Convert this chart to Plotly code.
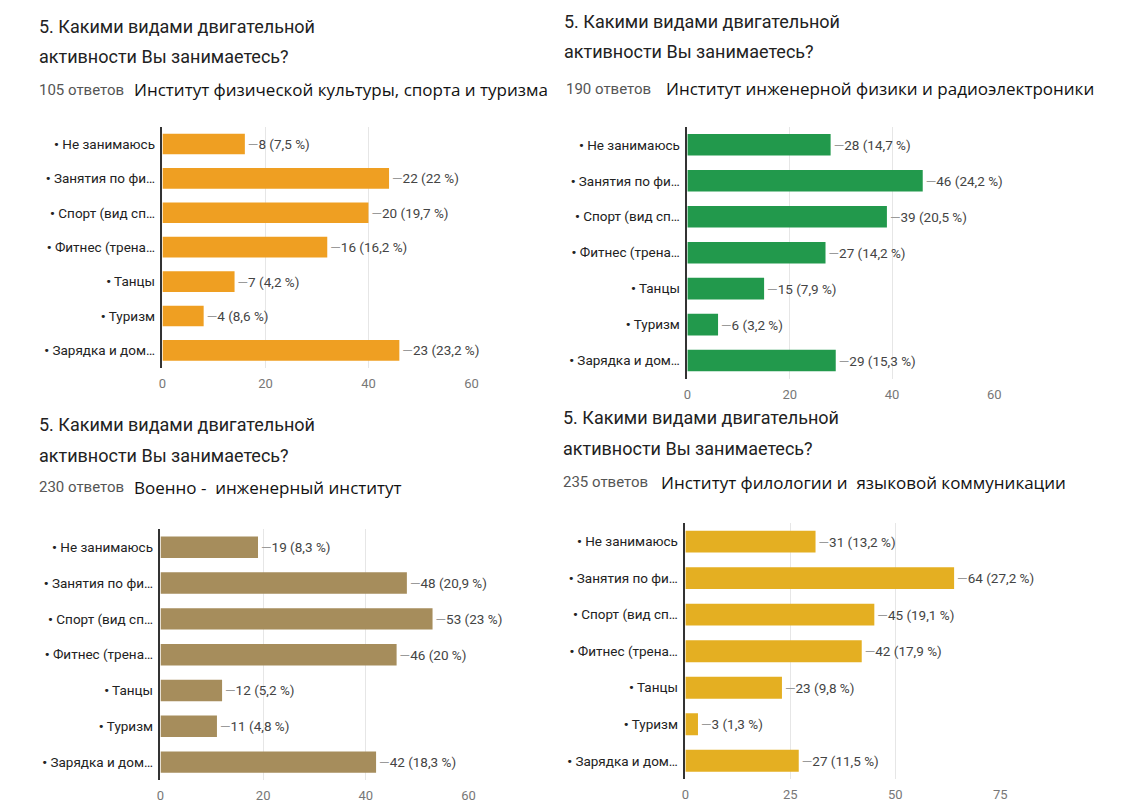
import plotly.graph_objects as go

W, H = 1141, 803

categories = [
    "<b>•</b> Не занимаюсь",
    "<b>•</b> Занятия по фи…",
    "<b>•</b> Спорт (вид сп…",
    "<b>•</b> Фитнес (трена…",
    "<b>•</b> Танцы",
    "<b>•</b> Туризм",
    "<b>•</b> Зарядка и дом…",
]

# Institute answer counts and shares
fk_counts = [8, 22, 20, 16, 7, 4, 23]
fk_pct = ["7,5", "22", "19,7", "16,2", "4,2", "8,6", "23,2"]

ife_counts = [28, 46, 39, 27, 15, 6, 29]
ife_pct = ["14,7", "24,2", "20,5", "14,2", "7,9", "3,2", "15,3"]

vii_counts = [19, 48, 53, 46, 12, 11, 42]
vii_pct = ["8,3", "20,9", "23", "20", "5,2", "4,8", "18,3"]

ifl_counts = [31, 64, 45, 42, 23, 3, 27]
ifl_pct = ["13,2", "27,2", "19,1", "17,9", "9,8", "1,3", "11,5"]

question_line1 = "5. Какими видами двигательной"
question_line2 = "активности Вы занимаетесь?"

panels = [
    dict(counts=fk_counts, pct=fk_pct, color="#EF9F22", n="105 ответов",
         inst="Институт физической культуры, спорта и туризма",
         px=(160, 472), py=(127, 368), rng=[0, 30],
         tickvals=[0, 10, 20, 30], ticktext=["0", "20", "40", "60"],
         tx=33, ty=(27, 57, 90), nx=33, ix=129),
    dict(counts=ife_counts, pct=ife_pct, color="#22994C", n="190 ответов",
         inst="Институт инженерной физики и радиоэлектроники",
         px=(690, 1000), py=(127, 379), rng=[0, 60],
         tickvals=[0, 20, 40, 60], ticktext=["0", "20", "40", "60"],
         tx=563, ty=(22, 52, 89), nx=565, ix=666),
    dict(counts=vii_counts, pct=vii_pct, color="#A68D5C", n="230 ответов",
         inst="Военно -\u00a0 инженерный институт",
         px=(158, 469), py=(530, 781), rng=[0, 60],
         tickvals=[0, 20, 40, 60], ticktext=["0", "20", "40", "60"],
         tx=33, ty=(425, 456, 488), nx=33, ix=129),
    dict(counts=ifl_counts, pct=ifl_pct, color="#E4AF22", n="235 ответов",
         inst="Институт филологии и\u00a0 языковой коммуникации",
         px=(688, 1006), py=(524, 780), rng=[0, 75],
         tickvals=[0, 25, 50, 75], ticktext=["0", "25", "50", "75"],
         tx=562, ty=(418, 449, 483), nx=562, ix=661),
]

fig = go.Figure()
annotations = []

for i, p in enumerate(panels, start=1):
    xa = "x" if i == 1 else f"x{i}"
    ya = "y" if i == 1 else f"y{i}"
    labels = [f"<span style='color:#9a9a9a'>—</span>{c} ({s} %)"
              for c, s in zip(p["counts"], p["pct"])]
    fig.add_trace(go.Bar(
        x=p["counts"], y=categories, orientation="h",
        marker=dict(color=p["color"], line=dict(width=0)),
        text=labels, textposition="outside", cliponaxis=False,
        textfont=dict(family="Roboto", size=13.5, color="#444444"),
        xaxis=xa, yaxis=ya, showlegend=False, hoverinfo="skip",
    ))
    x0, x1 = p["px"]
    y0, y1 = p["py"]
    xkey = "xaxis" if i == 1 else f"xaxis{i}"
    ykey = "yaxis" if i == 1 else f"yaxis{i}"
    fig.update_layout(**{
        xkey: dict(
            domain=[x0 / W, x1 / W], anchor=ya, range=p["rng"],
            tickvals=p["tickvals"], ticktext=p["ticktext"],
            showgrid=True, gridcolor="#E6E6E6", gridwidth=1,
            zeroline=False, showline=False, ticks="",
            tickfont=dict(family="Roboto", size=13, color="#777777"),
            ticklabelstandoff=6, fixedrange=True,
        ),
        ykey: dict(
            domain=[1 - y1 / H, 1 - y0 / H], anchor=xa,
            autorange="reversed", showgrid=False, zeroline=False,
            showline=True, linecolor="#333333", linewidth=1.5, ticks="",
            tickfont=dict(family="Roboto", size=13.5, color="#222222"),
            ticklabelstandoff=3, fixedrange=True,
        ),
    })
    ty1, ty2, ty3 = p["ty"]
    for txt, yy in ((question_line1, ty1), (question_line2, ty2)):
        annotations.append(dict(
            text=txt, x=p["tx"] / W, y=1 - yy / H, xref="paper", yref="paper",
            xanchor="left", yanchor="middle", showarrow=False,
            font=dict(family="Roboto", size=18, color="#222222"),
        ))
    annotations.append(dict(
        text=p["n"], x=p["nx"] / W, y=1 - ty3 / H, xref="paper", yref="paper",
        xanchor="left", yanchor="middle", showarrow=False,
        font=dict(family="Roboto", size=15, color="#555555"),
    ))
    annotations.append(dict(
        text=p["inst"], x=p["ix"] / W, y=1 - ty3 / H, xref="paper", yref="paper",
        xanchor="left", yanchor="middle", showarrow=False,
        font=dict(family="Open Sans", size=17, color="#111111"),
    ))

fig.update_layout(
    width=W, height=H, margin=dict(l=0, r=0, t=0, b=0),
    paper_bgcolor="white", plot_bgcolor="white",
    bargap=0.4, annotations=annotations,
)

fig.write_html("out.html", config={"displayModeBar": False})
